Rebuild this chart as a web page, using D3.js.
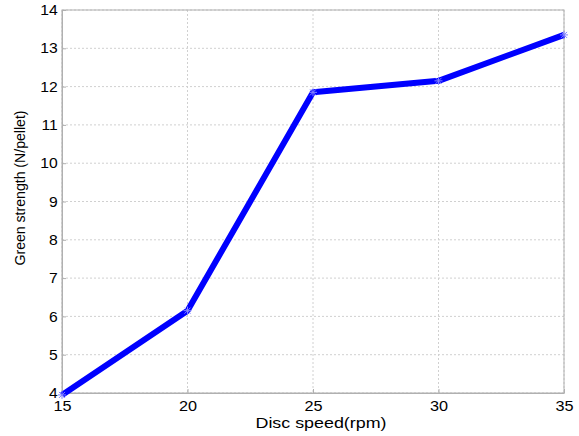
<!DOCTYPE html>
<html>
<head>
<meta charset="utf-8">
<script src="https://cdn.jsdelivr.net/npm/d3@7"></script>
<style>
  body { margin: 0; background: #fff; }
  svg { display: block; font-family: "Liberation Sans", Arial, sans-serif; }
</style>
</head>
<body>
<script>
// Data
const discSpeed = [15, 20, 25, 30, 35];
const greenStrength = [3.95, 6.15, 11.85, 12.15, 13.35];
const xTicks = [15, 20, 25, 30, 35];
const yTicks = [4, 5, 6, 7, 8, 9, 10, 11, 12, 13, 14];

const W = 579, H = 436;
const margin = { top: 10, right: 15, bottom: 43, left: 62 },
      width = W - margin.left - margin.right,
      height = H - margin.top - margin.bottom;

const svg = d3.select("body").append("svg")
    .attr("width", W)
    .attr("height", H);

const g = svg.append("g")
    .attr("transform", `translate(${margin.left},${margin.top})`);

const x = d3.scaleLinear().domain([15, 35]).range([0, width]);
const y = d3.scaleLinear().domain([4, 14]).range([height, 0]);

// Grid
g.selectAll(".gx").data(xTicks).enter().append("line")
    .attr("x1", d => x(d)).attr("x2", d => x(d))
    .attr("y1", 0).attr("y2", height)
    .attr("stroke", "#d0d0d0").attr("stroke-dasharray", "2,2");
g.selectAll(".gy").data(yTicks).enter().append("line")
    .attr("x1", 0).attr("x2", width)
    .attr("y1", d => y(d)).attr("y2", d => y(d))
    .attr("stroke", "#d0d0d0").attr("stroke-dasharray", "2,2");

// Box
g.append("rect")
    .attr("width", width).attr("height", height)
    .attr("fill", "none").attr("stroke", "#b0b0b0");

// Axes (inward ticks)
const xAxis = g.append("g")
    .attr("transform", `translate(0,${height})`)
    .call(d3.axisBottom(x).tickValues(xTicks).tickSizeInner(-4).tickSizeOuter(0).tickPadding(8));
const yAxis = g.append("g")
    .call(d3.axisLeft(y).tickValues(yTicks).tickSizeInner(-4).tickSizeOuter(0).tickPadding(4));

[xAxis, yAxis].forEach(a => {
  a.select(".domain").attr("stroke", "#b0b0b0");
  a.selectAll(".tick line").attr("stroke", "#b0b0b0");
  a.selectAll("text").attr("font-size", 14.5).attr("fill", "#000")
    .attr("font-family", "Liberation Sans, Arial, sans-serif");
});
// reference text looks slightly stretched horizontally
xAxis.selectAll("text").attr("transform", "scale(1.12,1)");
yAxis.selectAll("text").attr("transform", "scale(1.08,1)");

// Line
const line = d3.line().x((d, i) => x(discSpeed[i])).y(d => y(d));
g.append("path")
    .datum(greenStrength)
    .attr("d", line)
    .attr("fill", "none")
    .attr("stroke", "#0000ff")
    .attr("stroke-width", 6)
    .attr("stroke-linejoin", "round");

// Small markers
g.selectAll(".mk").data(greenStrength).enter().append("path")
    .attr("transform", (d, i) => `translate(${x(discSpeed[i])},${y(d)})`)
    .attr("d", "M-4,0H4M0,-4V4M-3,-3L3,3M-3,3L3,-3")
    .attr("stroke", "#8080ff").attr("stroke-width", 1);

// Labels
svg.append("text")
    .attr("x", 321)
    .attr("y", 428)
    .attr("text-anchor", "middle")
    .attr("font-size", 14.5)
    .attr("textLength", 131)
    .attr("lengthAdjust", "spacingAndGlyphs")
    .text("Disc speed(rpm)");

svg.append("text")
    .attr("transform", "translate(25,188) rotate(-90)")
    .attr("text-anchor", "middle")
    .attr("font-size", 14)
    .attr("textLength", 155)
    .attr("lengthAdjust", "spacingAndGlyphs")
    .text("Green strength (N/pellet)");
</script>
</body>
</html>
